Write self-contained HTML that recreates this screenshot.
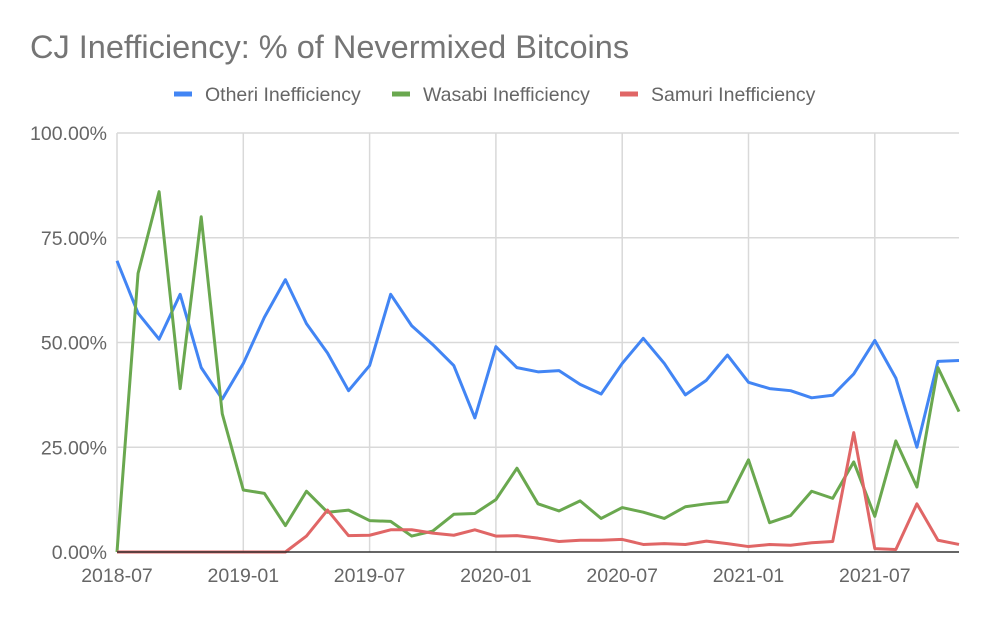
<!DOCTYPE html>
<html><head><meta charset="utf-8"><style>
body{margin:0;background:#fff;font-family:"Liberation Sans",sans-serif}
svg text{font-family:"Liberation Sans",sans-serif}
</style></head><body>
<svg id="chart" width="990" height="613">
<text x="30" y="58" font-size="32.5" fill="#757575">CJ Inefficiency: % of Nevermixed Bitcoins</text>
<g id="legend"></g>
<g id="grid"></g><g id="series"></g><g id="axes"></g>
</svg>
<script>
const months=[];for(let i=0;i<41;i++){const y=2018+Math.floor((6+i)/12),m=(6+i)%12+1;months.push(y+'-'+String(m).padStart(2,'0'));}
const otheri=[69.5,57,50.8,61.5,44,36.5,45,56,65,54.5,47.5,38.5,44.5,61.5,54,49.5,44.5,32,49,44,43,43.3,40,37.7,45,51,45,37.5,41,47,40.5,39,38.5,36.8,37.4,42.5,50.5,41.5,25,45.5,45.7];
const wasabi=[0,66.5,86,39,80,33,14.8,14,6.3,14.5,9.5,10,7.5,7.3,3.8,5,9,9.2,12.5,20,11.5,9.8,12.2,8,10.6,9.5,8,10.8,11.5,12,22,7,8.7,14.5,12.8,21.5,8.5,26.5,15.5,44,33.5];
const samuri=[0,0,0,0,0,0,0,0,0,3.8,10,3.9,4,5.3,5.3,4.5,4,5.3,3.8,3.9,3.3,2.5,2.8,2.8,3,1.8,2,1.8,2.6,2,1.3,1.8,1.6,2.2,2.5,28.5,0.8,0.6,11.5,2.8,1.8];
const yTicks=[0,25,50,75,100];
const xTickLabels=['2018-07','2019-01','2019-07','2020-01','2020-07','2021-01','2021-07'];
const seriesNames=['Otheri Inefficiency','Wasabi Inefficiency','Samuri Inefficiency'];
const colors=['#4285f4','#6aa84f','#e06666'];
const L=117,R=959,T=133,B=552;
const xs=i=>L+i*(R-L)/(months.length-1);
const ys=v=>B-v/100*(B-T);
const NS='http://www.w3.org/2000/svg';
function mk(t,a,p){const e=document.createElementNS(NS,t);for(const k in a)e.setAttribute(k,a[k]);p.appendChild(e);return e;}
const grid=document.getElementById('grid'),axes=document.getElementById('axes'),ser=document.getElementById('series'),leg=document.getElementById('legend');
yTicks.forEach(v=>{
 const l=mk('line',{x1:L,x2:R,y1:ys(v),y2:ys(v),stroke:v===0?'#333':'#d9d9d9','stroke-width':1.5},v===0?axes:grid);
 
 
 const t=mk('text',{x:107,y:ys(v)+7,'text-anchor':'end','font-size':19.5,fill:'#666'},axes);
 t.textContent=v.toFixed(2)+'%';
 
 
});
xTickLabels.forEach(lbl=>{
 const i=months.indexOf(lbl);
 const l=mk('line',{x1:xs(i),x2:xs(i),y1:T,y2:B,stroke:'#d9d9d9','stroke-width':1.5},grid);
 
 
 const t=mk('text',{x:xs(i),y:582,'text-anchor':'middle','font-size':19.5,fill:'#666'},axes);
 t.textContent=lbl;
 
 
});
[otheri,wasabi,samuri].forEach((d,s)=>{
 const p=mk('polyline',{points:d.map((v,i)=>xs(i)+','+ys(v)).join(' '),fill:'none',stroke:colors[s],'stroke-width':3,'stroke-linejoin':'round'},ser);
 
 
});
const lx=[174,392,620];
seriesNames.forEach((n,s)=>{
 const g=mk('g',{},leg);
 
 
 mk('line',{x1:lx[s],x2:lx[s]+18,y1:94,y2:94,stroke:colors[s],'stroke-width':5},g);
 const t=mk('text',{x:lx[s]+31,y:101,'font-size':19.5,fill:'#666'},g);
 t.textContent=n;
});
</script>
</body></html>
